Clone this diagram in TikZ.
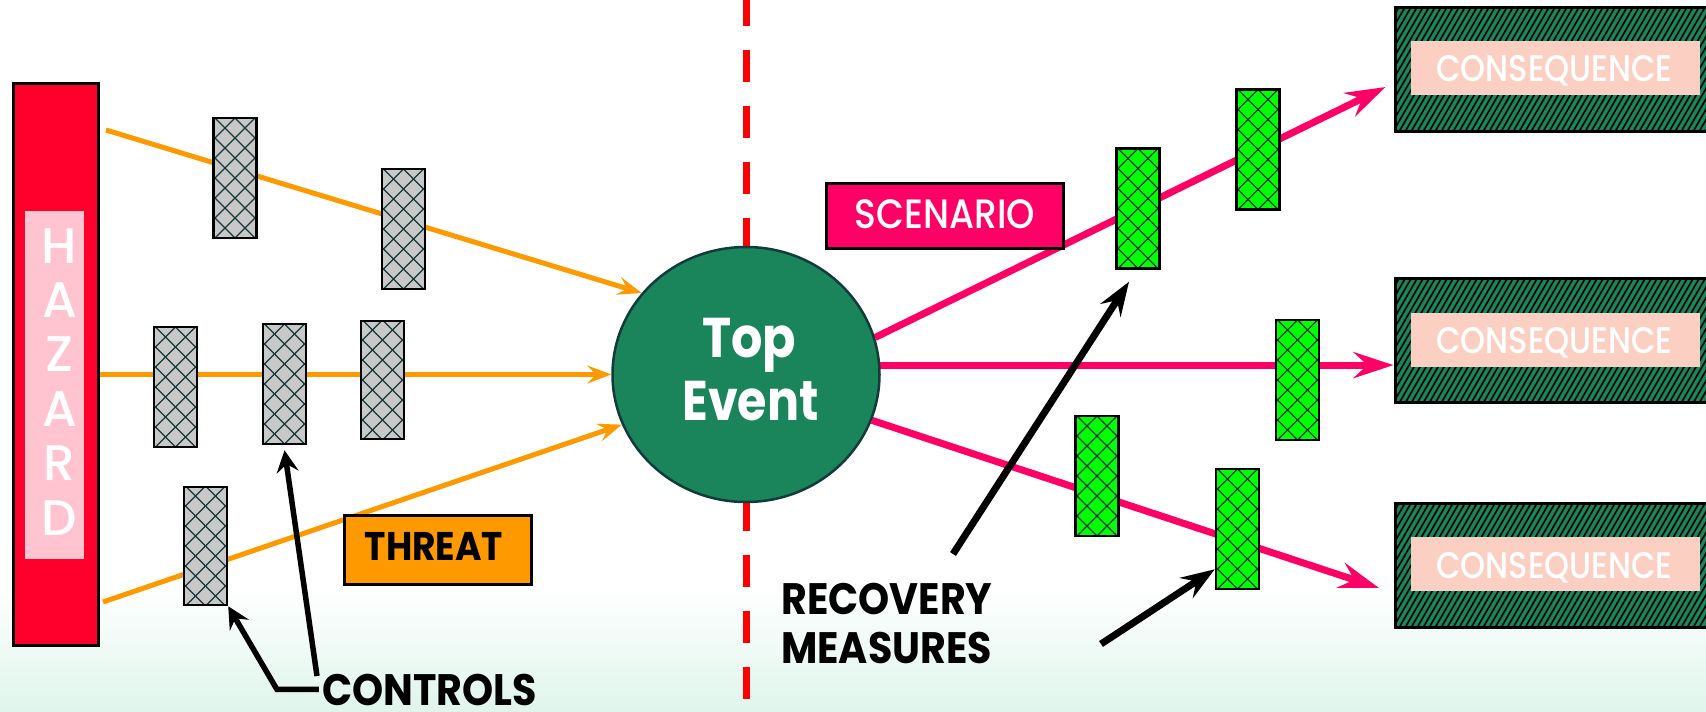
\documentclass[tikz,border=0pt]{standalone}
\usepackage{fontspec}
\setmainfont{Poppins}
\newfontfamily\medfont{Poppins Medium}
\usetikzlibrary{arrows.meta,shapes.geometric,calc}
\definecolor{hazred}{HTML}{FF002D}
\definecolor{hazpink}{HTML}{FFC4CF}
\definecolor{orng}{HTML}{FF9900}
\definecolor{greybox}{HTML}{C8C8C8}
\definecolor{hatchc}{HTML}{153838}
\definecolor{topg}{HTML}{1A845B}
\definecolor{circb}{HTML}{123C3C}
\definecolor{pnk}{HTML}{FF0066}
\definecolor{peach}{HTML}{FBD0C2}
\definecolor{lime}{HTML}{00FF00}
\definecolor{mint}{HTML}{DFF5EC}
\newcommand{\hsc}[2]{\scalebox{#1}[1]{#2}}
\pgfdeclarelayer{back}
\pgfdeclarelayer{lines}
\pgfsetlayers{back,lines,main}
\tikzset{
  diamonds/.style={path picture={
    \foreach \k in {-9,...,9}{
      \draw[hatchc,line width=1.1pt] ([xshift=\k*20pt-80pt,yshift=-80pt]path picture bounding box.center) -- ++(160pt,160pt);
      \draw[hatchc,line width=1.1pt] ([xshift=\k*20pt-80pt,yshift=80pt]path picture bounding box.center) -- ++(160pt,-160pt);
    }}},
  slashes/.style={path picture={
    \foreach \k in {-45,...,45}{
      \draw[black,line width=1.6pt] ([xshift=\k*6pt-50pt,yshift=-87pt]path picture bounding box.center) -- ++(100pt,173pt);
    }}},
  ctrlbox/.style={draw=black,line width=2.5pt,fill=greybox,minimum width=43pt,minimum height=120pt,inner sep=0pt,diamonds},
  recbox/.style={draw=black,line width=2.5pt,fill=lime,minimum width=43pt,minimum height=120pt,inner sep=0pt,diamonds},
  consbox/.style={draw=black,line width=3pt,fill=topg,minimum width=320pt,minimum height=124pt,inner sep=0pt,slashes},
  consin/.style={fill=peach,minimum width=289pt,minimum height=54pt,inner sep=0pt},
  constext/.style={anchor=base,text=white,inner sep=0pt,font=\medfont\fontsize{37}{40}\selectfont},
  hazl/.style={anchor=base,text=white,inner sep=0pt,font=\medfont\fontsize{50}{54}\selectfont},
  blk/.style={anchor=base,text=black,inner sep=0pt,font=\bfseries\fontsize{44}{48}\selectfont},
  oline/.style={draw=orng,line width=5pt,-{Stealth[length=24pt,width=18pt,inset=9pt]}},
  pline/.style={draw=pnk,line width=7pt,-{Stealth[length=40pt,width=26pt,inset=14pt]}},
  barrow/.style={draw=black,line width=7pt,-{Stealth[length=34pt,width=24pt,inset=12pt]}},
  carrow/.style={draw=black,line width=5.5pt,-{Stealth[length=22pt,width=22pt,inset=8pt]}},
  dashline/.style={draw=red,line width=7pt,dash pattern=on 32pt off 24pt},
}
\begin{document}
\begin{tikzpicture}[x=1pt,y=-1pt]
\useasboundingbox (0,0) rectangle (1706,712);
\clip (0,0) rectangle (1706,712);
\begin{pgfonlayer}{back}
  \fill[white] (0,0) rectangle (1706,712);
  \shade[top color=white,bottom color=mint] (0,585) rectangle (1706,712);
\end{pgfonlayer}

% hazard
\node[draw=black,line width=3pt,fill=hazred,minimum width=85pt,minimum height=562pt,inner sep=0pt] (hz) at (55.5,364) {};
\node[fill=hazpink,minimum width=59pt,minimum height=348pt,inner sep=0pt] (hzin) at (54.5,385) {};
\foreach \l/\i in {H/0,A/1,Z/2,A/3,R/4,D/5}{
  \node[hazl] (hl\i) at (59.5,263+54.4*\i) {\l};
}

% top event
\node[ellipse,draw=circb,line width=2.5pt,fill=topg,minimum width=267pt,minimum height=255pt,inner sep=0pt] (te) at (746,374.5) {};
\node[anchor=base,text=white,inner sep=0pt,font=\bfseries\fontsize{56}{60}\selectfont] (tt1) at (749,357) {\hsc{0.88}{Top}};
\node[anchor=base,text=white,inner sep=0pt,font=\bfseries\fontsize{56}{60}\selectfont] (tt2) at (750.5,420) {\hsc{0.85}{Event}};

% controls (grey)
\node[ctrlbox] (b1) at (235,178) {};
\node[ctrlbox] (b2) at (403.5,229) {};
\node[ctrlbox] (b3) at (175.5,387) {};
\node[ctrlbox] (b4) at (284.5,384) {};
\node[ctrlbox,minimum height=118pt] (b5) at (382.5,380) {};
\node[ctrlbox,minimum height=118pt] (b6) at (205.5,546) {};

% recovery measures (green)
\node[recbox] (g1) at (1138,208.5) {};
\node[recbox] (g2) at (1258,149.5) {};
\node[recbox] (g3) at (1297.5,380) {};
\node[recbox] (g4) at (1097,476) {};
\node[recbox] (g5) at (1237.5,529) {};

% threat / scenario
\node[draw=black,line width=3pt,fill=orng,minimum width=187pt,minimum height=69pt,inner sep=0pt] (thr) at (437.5,549.5) {};
\node[blk,font=\bfseries\fontsize{40}{44}\selectfont] (thrt) at (434,560) {\hsc{0.9}{THREAT}};
\node[draw=black,line width=3pt,fill=pnk,minimum width=237pt,minimum height=65pt,inner sep=0pt] (scn) at (944.5,215.5) {};
\node[anchor=base,text=white,inner sep=0pt,font=\medfont\fontsize{41}{44}\selectfont] (scnt) at (945,228) {\hsc{0.88}{SCENARIO}};

% consequences
\node[consbox] (c1) at (1555,69) {};
\node[consin] (c1in) at (1555.5,68) {};
\node[constext] (c1t) at (1554.5,81) {\hsc{0.86}{CONSEQUENCE}};
\node[consbox] (c2) at (1555,340.5) {};
\node[consin] (c2in) at (1555.5,340) {};
\node[constext] (c2t) at (1554.5,353) {\hsc{0.86}{CONSEQUENCE}};
\node[consbox] (c3) at (1555,565) {};
\node[consin] (c3in) at (1555,564) {};
\node[constext] (c3t) at (1554.5,578) {\hsc{0.86}{CONSEQUENCE}};

% labels
\node[blk] (ctl) at (429.5,705) {\hsc{0.9}{CONTROLS}};
\node[blk,anchor=base west] (rec1) at (781,614) {\hsc{0.9}{RECOVERY}};
\node[blk,anchor=base west] (rec2) at (781,663) {\hsc{0.9}{MEASURES}};

% coordinates
\coordinate (o1s) at (106,130);
\coordinate (o3s) at (103,602);
\coordinate (p1e) at (1385.5,87);
\coordinate (p3e) at (1379,588);

\begin{pgfonlayer}{lines}
  \draw[dashline] (746,-6) -- (te.north);
  \draw[dashline] ([yshift=4pt]te.south) -- ++(0,230);
  \draw[oline] (o1s) -- (te.142);
  \draw[oline] (hz.east |- te.west) -- (te.west);
  \draw[oline] (o3s) -- (te.202);
  \draw[pline] (te.16) -- (p1e);
  \draw[pline] (te.4) -- (c2.west |- te.4);
  \draw[pline] (te.340) -- (p3e);
\end{pgfonlayer}

% black arrows
\draw[barrow] (953,554) -- ($(g1.south)+(-9,12)$);
\draw[barrow] (1101,644) -- ($(g5.south west)+(0,-21)$);
\draw[carrow] ([xshift=-3pt]ctl.west) -- ++(-42,0) -- (b6.south east);
\draw[carrow] (317,676) -- ($(b4.south)+(0,5)$);
\end{tikzpicture}
\end{document}
